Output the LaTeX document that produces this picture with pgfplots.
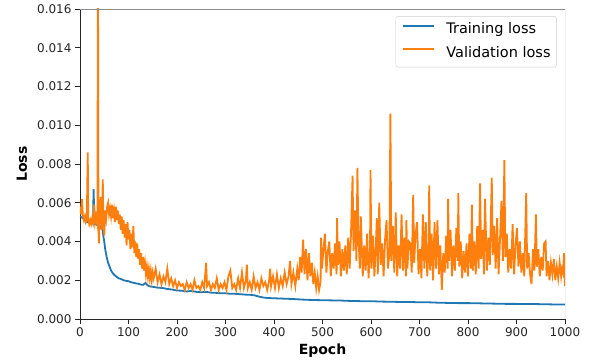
\documentclass[border=0pt]{standalone}
\usepackage{pgfplots}
\pgfplotsset{compat=1.18}
\usepackage{fontspec}
\setmainfont{DejaVu Sans}
\definecolor{tabblue}{HTML}{1F77B4}
\definecolor{taborange}{HTML}{FF7F0E}
\begin{document}
\begin{tikzpicture}
\begin{axis}[
  scale only axis, width=485bp, height=310bp,
  xmin=0, xmax=1000, ymin=0, ymax=0.016,
  axis lines*=left, axis line style={black!85,-, line width=0.9bp},
  tick pos=left, tick align=outside, major tick length=5bp,
  every tick/.style={black!85, line width=0.9bp},
  xtick={0,100,...,1000},
  ytick={0,0.002,...,0.016},
  scaled y ticks=false,
  /pgf/number format/assume math mode=true,
  yticklabel style={/pgf/number format/.cd, fixed, fixed zerofill, precision=3},
  xticklabel style={/pgf/number format/.cd, fixed, 1000 sep={}},
  ticklabel style={font=\fontsize{12bp}{14bp}\selectfont, text=black!85},
  xlabel={\textbf{Epoch}}, ylabel={\textbf{Loss}},
  label style={font=\fontsize{14bp}{16bp}\selectfont},
  x label style={at={(axis description cs:0.5,-0.103)}, anchor=center},
  y label style={at={(axis description cs:-0.1196,0.5)}, anchor=center},
  legend cell align=left,
  legend style={at={(0.983,0.977)}, anchor=north east, draw=black!20, rounded corners=2.5bp,
    fill=white, font=\fontsize{14.5bp}{17bp}\selectfont, inner xsep=6bp, inner ysep=6.5bp,
    row sep=8.8bp, /tikz/column sep=11.6bp,
    nodes={inner sep=0bp, text height=11bp, text depth=3.5bp}},
  legend image code/.code={\draw[#1,line width=2bp] (0bp,4bp) -- (31bp,4bp);},
]
\addplot[tabblue, line width=1.8bp] coordinates {
(0,5.3e-3)(3,5.25e-3)(6,5.2e-3)(9,5.12e-3)(12,5.1e-3)(15,5.0e-3)(18,4.98e-3)(21,4.95e-3)(24,4.9e-3)(27,5.2e-3)(28,6.7e-3)(30,4.9e-3)(33,4.88e-3)(36,4.85e-3)(40,4.8e-3)(43,4.7e-3)(45,4.9e-3)(48,4.3e-3)(50,4.0e-3)(52,3.6e-3)(55,3.2e-3)(58,2.9e-3)(61,2.7e-3)(64,2.5e-3)(68,2.35e-3)(72,2.25e-3)(76,2.17e-3)(80,2.1e-3)(85,2.06e-3)(90,2.0e-3)(95,1.97e-3)(100,1.95e-3)(105,1.9e-3)(110,1.87e-3)(115,1.84e-3)(120,1.82e-3)(125,1.78e-3)(130,1.76e-3)(135,1.86e-3)(140,1.72e-3)(145,1.68e-3)(150,1.66e-3)(160,1.62e-3)(170,1.6e-3)(180,1.55e-3)(190,1.52e-3)(200,1.47e-3)(210,1.46e-3)(220,1.42e-3)(230,1.45e-3)(240,1.4e-3)(250,1.38e-3)(260,1.4e-3)(270,1.36e-3)(280,1.35e-3)(290,1.33e-3)(300,1.33e-3)(310,1.3e-3)(320,1.3e-3)(330,1.28e-3)(340,1.26e-3)(350,1.25e-3)(360,1.22e-3)(370,1.15e-3)(380,1.1e-3)(390,1.08e-3)(400,1.07e-3)(420,1.05e-3)(440,1.03e-3)(460,1.0e-3)(480,0.98e-3)(500,0.97e-3)(520,0.96e-3)(540,0.95e-3)(560,0.93e-3)(580,0.92e-3)(600,0.92e-3)(620,0.9e-3)(640,0.89e-3)(660,0.88e-3)(680,0.88e-3)(700,0.86e-3)(720,0.86e-3)(740,0.84e-3)(760,0.83e-3)(780,0.82e-3)(800,0.82e-3)(820,0.81e-3)(840,0.8e-3)(860,0.79e-3)(880,0.78e-3)(900,0.78e-3)(920,0.77e-3)(940,0.77e-3)(960,0.76e-3)(980,0.75e-3)(1000,0.75e-3)
};
\addlegendentry{Training loss}
\addplot[taborange, line width=1.8bp] coordinates {
(0,5.8e-3)(2,5.4e-3)(4,6.2e-3)(6,5.3e-3)(8,5.1e-3)(10,5.3e-3)(12,5.0e-3)(14,5.1e-3)(16,8.6e-3)(17,5.2e-3)(19,4.9e-3)(21,5.1e-3)(23,4.9e-3)(25,5.2e-3)(27,5.0e-3)(29,5.9e-3)(31,5.0e-3)(33,5.3e-3)(35,5.0e-3)(36,5.6e-3)(37,20e-3)(38,4.8e-3)(39,3.9e-3)(41,5.6e-3)(43,6.3e-3)(45,4.6e-3)(47,7.2e-3)(48,5.2e-3)(50,4.3e-3)(52,5.6e-3)(54,5.2e-3)(56,5.8e-3)(58,6.0e-3)(60,5.4e-3)(62,5.7e-3)(64,5.3e-3)(66,5.9e-3)(68,5.2e-3)(70,5.6e-3)(72,5.0e-3)(74,5.8e-3)(76,5.1e-3)(78,5.6e-3)(80,4.9e-3)(82,5.4e-3)(84,4.6e-3)(86,5.3e-3)(88,4.4e-3)(90,5.1e-3)(92,4.2e-3)(94,4.9e-3)(96,3.8e-3)(98,5.0e-3)(100,4.1e-3)(102,4.6e-3)(104,3.6e-3)(106,4.4e-3)(108,3.7e-3)(110,4.8e-3)(112,3.4e-3)(114,4.0e-3)(116,3.2e-3)(118,3.9e-3)(120,3.1e-3)(122,3.6e-3)(124,2.8e-3)(126,3.4e-3)(128,2.6e-3)(130,3.2e-3)(132,2.5e-3)(134,2.9e-3)(136,2.3e-3)(138,2.7e-3)(140,2.2e-3)(142,2.6e-3)(144,2.1e-3)(146,2.5e-3)(148,2.0e-3)(150,2.4e-3)
(152,2.1e-3)(156,2.6e-3)(160,1.9e-3)(164,2.3e-3)(168,1.8e-3)(172,2.2e-3)(176,1.9e-3)(180,2.6e-3)(184,1.8e-3)(188,2.1e-3)(192,1.7e-3)(196,2.0e-3)(200,1.6e-3)(204,1.9e-3)(208,1.7e-3)(212,1.8e-3)(216,1.5e-3)(220,1.9e-3)(224,1.6e-3)(228,1.8e-3)(232,1.5e-3)(236,2.0e-3)(240,1.6e-3)(244,1.7e-3)(248,1.5e-3)(252,1.9e-3)(256,1.6e-3)(260,2.9e-3)(262,1.7e-3)(266,1.9e-3)(270,1.5e-3)(274,1.8e-3)(278,1.6e-3)(282,2.1e-3)(286,1.5e-3)(290,1.8e-3)(294,1.6e-3)(298,1.9e-3)(302,1.5e-3)(306,2.2e-3)(310,2.5e-3)(314,1.6e-3)(318,1.8e-3)(322,1.5e-3)(326,2.1e-3)(330,1.6e-3)(334,2.4e-3)(338,1.6e-3)(342,2.0e-3)(344,2.8e-3)(346,1.6e-3)(350,1.9e-3)(354,1.5e-3)(358,2.2e-3)(362,1.6e-3)(366,1.9e-3)(370,1.5e-3)(374,2.1e-3)(378,1.7e-3)(382,1.9e-3)(386,1.5e-3)(390,2.0e-3)(392,2.6e-3)(394,1.7e-3)(398,2.2e-3)(402,1.6e-3)(406,2.3e-3)(410,1.6e-3)(414,2.1e-3)(418,1.7e-3)(422,2.4e-3)(426,1.8e-3)(430,2.2e-3)(433,3.0e-3)(436,1.8e-3)(440,2.4e-3)(444,1.7e-3)(448,2.6e-3)
(451,2.0e-3)(454,3.2e-3)(457,2.4e-3)(460,4.1e-3)(463,2.3e-3)(466,3.6e-3)(469,2.0e-3)(472,3.4e-3)(475,2.2e-3)(478,2.9e-3)(481,1.8e-3)(484,2.4e-3)(487,1.6e-3)(490,2.2e-3)(493,1.5e-3)(496,1.9e-3)(497,4.2e-3)(499,2.6e-3)(502,3.6e-3)(505,4.4e-3)(508,2.4e-3)(511,3.5e-3)(514,4.0e-3)(517,2.2e-3)(520,3.4e-3)(523,2.6e-3)(526,3.9e-3)(529,2.3e-3)(530,5.2e-3)(532,2.8e-3)(535,4.0e-3)(538,2.2e-3)(541,3.6e-3)(544,2.5e-3)(547,3.8e-3)(550,2.3e-3)(553,4.2e-3)(556,2.6e-3)(559,4.6e-3)(562,7.4e-3)(564,3.5e-3)(567,5.6e-3)(570,3.0e-3)(572,7.8e-3)(574,4.4e-3)(577,2.6e-3)(579,5.3e-3)(583,2.2e-3)(586,3.8e-3)(589,2.5e-3)(592,4.4e-3)(595,2.1e-3)(598,3.6e-3)(599,7.7e-3)(601,2.6e-3)(604,4.3e-3)(607,2.2e-3)(610,3.8e-3)(612,5.2e-3)(614,2.3e-3)(617,6.0e-3)(620,2.8e-3)(623,3.9e-3)(626,2.2e-3)(629,4.1e-3)(632,5.1e-3)(635,2.6e-3)(638,3.4e-3)(640,10.6e-3)(642,3.0e-3)(645,4.8e-3)(648,2.4e-3)(651,5.5e-3)(654,2.2e-3)(657,3.8e-3)(660,2.6e-3)(663,5.4e-3)(666,2.5e-3)(669,4.2e-3)(672,2.2e-3)(673,5.1e-3)(675,2.6e-3)(678,4.0e-3)(681,3.9e-3)(684,2.4e-3)(687,6.4e-3)(689,2.9e-3)(692,4.4e-3)(695,5.0e-3)(698,2.3e-3)
(701,3.6e-3)(704,2.1e-3)(707,5.4e-3)(710,2.6e-3)(713,5.0e-3)(716,2.2e-3)(719,3.9e-3)(720,6.9e-3)(722,2.5e-3)(725,4.4e-3)(728,2.0e-3)(731,5.0e-3)(734,2.6e-3)(737,5.1e-3)(740,2.3e-3)(743,3.8e-3)(746,1.5e-3)(749,3.4e-3)(752,2.4e-3)(755,4.3e-3)(758,2.6e-3)(759,6.2e-3)(761,3.0e-3)(764,4.6e-3)(767,2.2e-3)(770,3.8e-3)(773,2.5e-3)(776,4.7e-3)(779,3.0e-3)(780,6.5e-3)(782,2.7e-3)(785,4.0e-3)(788,2.1e-3)(791,3.5e-3)(794,2.4e-3)(797,3.9e-3)(800,2.2e-3)(803,4.4e-3)(806,2.6e-3)(808,5.9e-3)(810,2.5e-3)(813,4.0e-3)(816,2.3e-3)(819,4.8e-3)(822,2.6e-3)(825,7.0e-3)(827,3.1e-3)(830,4.6e-3)(833,2.3e-3)(835,6.2e-3)(839,2.5e-3)(842,4.2e-3)(845,2.8e-3)(849,7.3e-3)(851,3.3e-3)(854,4.8e-3)(857,2.6e-3)(860,5.2e-3)(863,2.3e-3)(866,4.1e-3)(869,6.1e-3)(872,3.0e-3)(875,8.2e-3)(877,3.2e-3)(880,4.4e-3)(883,2.4e-3)(886,3.6e-3)(889,2.6e-3)(892,4.9e-3)(895,2.3e-3)(898,3.8e-3)(901,4.7e-3)(904,2.7e-3)(907,4.0e-3)(910,2.4e-3)(913,3.4e-3)(916,2.2e-3)(920,6.5e-3)(922,2.6e-3)(925,3.4e-3)(928,2.3e-3)(931,1.8e-3)(934,3.6e-3)(937,2.5e-3)(940,5.4e-3)(942,2.7e-3)(945,3.6e-3)(948,2.2e-3)(951,3.2e-3)(954,2.5e-3)(957,3.9e-3)(960,4.0e-3)(962,2.2e-3)(965,3.0e-3)(968,2.0e-3)(971,2.9e-3)(974,2.3e-3)(977,3.1e-3)(980,2.0e-3)(983,2.7e-3)(986,2.1e-3)(989,2.9e-3)(992,2.2e-3)(994,2.6e-3)(996,2.4e-3)(998,3.4e-3)(1000,1.7e-3)
};
\addlegendentry{Validation loss}
\draw[black!45, line width=0.9bp] (rel axis cs:0,1) -- (rel axis cs:1,1) -- (rel axis cs:1,0);
\coordinate (sw) at (rel axis cs:0,0);
\coordinate (ne) at (rel axis cs:1,1);
\end{axis}
\pgfresetboundingbox
\path[use as bounding box] ([shift={(-80bp,-43bp)}]sw) rectangle ([shift={(27bp,9bp)}]ne);
\end{tikzpicture}
\end{document}
